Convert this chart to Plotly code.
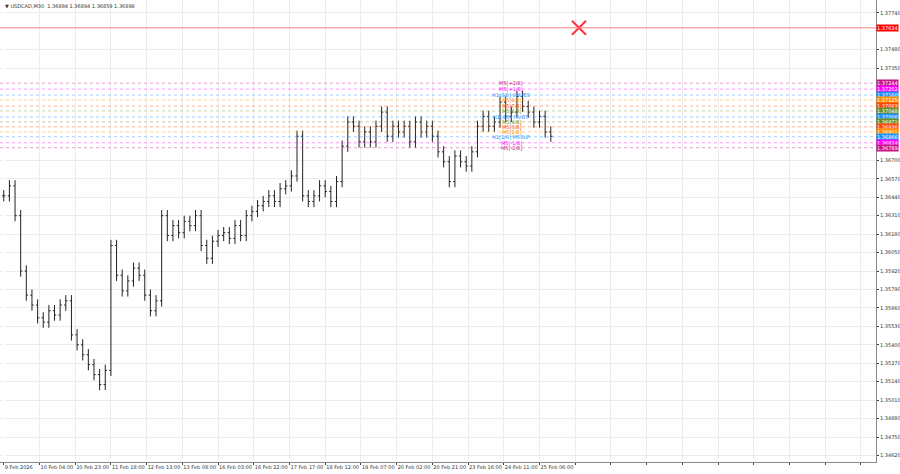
import plotly.graph_objects as go

closes = [1.3645,1.3652,1.3631,1.3592,1.3575,1.3568,1.3559,1.3556,1.3564,1.3561,1.3568,1.3571,1.3547,1.3540,1.3533,1.3526,1.3519,1.3512,1.3522,1.3610,
1.3589,1.3578,1.3585,1.3594,1.3589,1.3575,1.3564,1.3571,1.3631,1.3617,1.3624,1.3619,1.3627,1.3624,1.3631,1.3610,1.3601,1.3613,1.3617,1.3619,
1.3615,1.3624,1.3617,1.3631,1.3634,1.3638,1.3641,1.3645,1.3641,1.3650,1.3652,1.3659,1.3687,1.3645,1.3641,1.3645,1.3652,1.3648,1.3641,1.3655,
1.3680,1.3697,1.3694,1.3683,1.3690,1.3683,1.3694,1.3704,1.3687,1.3694,1.3690,1.3694,1.3683,1.3697,1.3690,1.3694,1.3687,1.3676,1.3669,1.3655,
1.3673,1.3669,1.3666,1.3676,1.3694,1.3701,1.3694,1.3697,1.3711,1.3701,1.3704,1.3715,1.3708,1.3704,1.3697,1.3701,1.3690,1.3687]
bar_step = 3
tick_labels = ["9 Feb 2026","10 Feb 04:00","10 Feb 23:00","11 Feb 18:00","12 Feb 13:00","13 Feb 08:00","16 Feb 03:00","16 Feb 22:00",
"17 Feb 17:00","18 Feb 12:00","19 Feb 07:00","20 Feb 02:00","20 Feb 21:00","23 Feb 16:00","24 Feb 11:00","25 Feb 06:00"]
red_level = 1.37634
level_prices = [1.37244,1.37202,1.37160,1.37125,1.37083,1.37048,1.37006,1.36971,1.36936,1.36901,1.36866,1.36824,1.36789]
level_colors = ["#c71585","#ff00ff","#1e90ff","#ff8c00","#ff4500","#6b8e23","#1e90ff","#6b8e23","#ff4500","#ff8c00","#1e90ff","#ff00ff","#c71585"]
level_names = ["M5[+2/8]","M5[+1/8]","H1[8/8] WAVES","M5[8/8]","M5[7/8]","M5[6/8]","H1[4/8] PIVOT","M5[4/8]","M5[3/8]","M5[2/8]","H1[1/8] M5SUP","M5[-1/8]","M5[-2/8]"]
price_ticks = [1.34620,1.34750,1.34880,1.35010,1.35140,1.35270,1.35400,1.35530,1.35660,1.35790,1.35920,1.36050,1.36180,1.36310,1.36440,1.36570,1.36700,1.37350,1.37480,1.37740]

x = [i*bar_step for i in range(len(closes))]
opens = [closes[0]] + closes[:-1]
wick = 0.0004
highs = [max(o, c) + wick for o, c in zip(opens, closes)]
lows = [min(o, c) - wick for o, c in zip(opens, closes)]

fig = go.Figure()
fig.add_trace(go.Ohlc(x=x, open=opens, high=highs, low=lows, close=closes, tickwidth=0.3,
    increasing=dict(line=dict(color="#222", width=1)),
    decreasing=dict(line=dict(color="#222", width=1)), showlegend=False))

fig.add_hline(y=red_level, line=dict(color="#ff8080", width=1))
anns = [dict(x=1, xref="paper", y=red_level, yref="y", text=f"{red_level:.5f}", showarrow=False,
             xanchor="left", bgcolor="#ff0000", font=dict(color="white", size=5), borderpad=0)]
for p, c, n in zip(level_prices, level_colors, level_names):
    fig.add_hline(y=p, line=dict(color=c, width=0.7, dash="dot"), opacity=0.6)
    anns.append(dict(x=1, xref="paper", y=p, yref="y", text=f"{p:.5f}", showarrow=False,
                     xanchor="left", bgcolor=c, font=dict(color="white", size=5), borderpad=0))
    anns.append(dict(x=270, y=p, text=n, showarrow=False, xanchor="center",
                     font=dict(color=c, size=5)))
anns.append(dict(x=0.003, y=0.997, xref="paper", yref="paper", xanchor="left", yanchor="top", showarrow=False,
                 text="▼ USDCAD,M30  1.36884 1.36894 1.36859 1.36898", font=dict(size=5, color="#333")))
fig.add_trace(go.Scatter(x=[306], y=[red_level], mode="markers", showlegend=False,
                         marker=dict(symbol="x-thin", size=14, line=dict(color="#ff3040", width=2))))

tickvals = [i*19 for i in range(25)]
ticktext = tick_labels + [""]*(25-len(tick_labels))
fig.update_layout(width=900, height=474, margin=dict(l=0, r=24, t=0, b=12, autoexpand=False),
    plot_bgcolor="white", paper_bgcolor="white", annotations=anns,
    font=dict(family="DejaVu Sans", size=5, color="#333"))
fig.update_xaxes(range=[-2, 464], tickvals=tickvals, ticktext=ticktext, showgrid=True, gridcolor="#ececec",
                 rangeslider_visible=False, ticks="outside", ticklen=2, showline=True, linecolor="#888",
                 tickangle=0, ticklabelposition="outside right", tickfont=dict(size=5))
fig.update_yaxes(side="right", range=[1.34574, 1.37830], tickvals=price_ticks, tickformat=".5f",
                 showgrid=True, gridcolor="#ececec", showline=True, linecolor="#888", ticks="outside", ticklen=2,
                 tickfont=dict(size=5))
fig.write_html("out.html", config={"displayModeBar": False},
               post_script="document.body.style.margin='0';document.body.style.overflow='hidden';")
